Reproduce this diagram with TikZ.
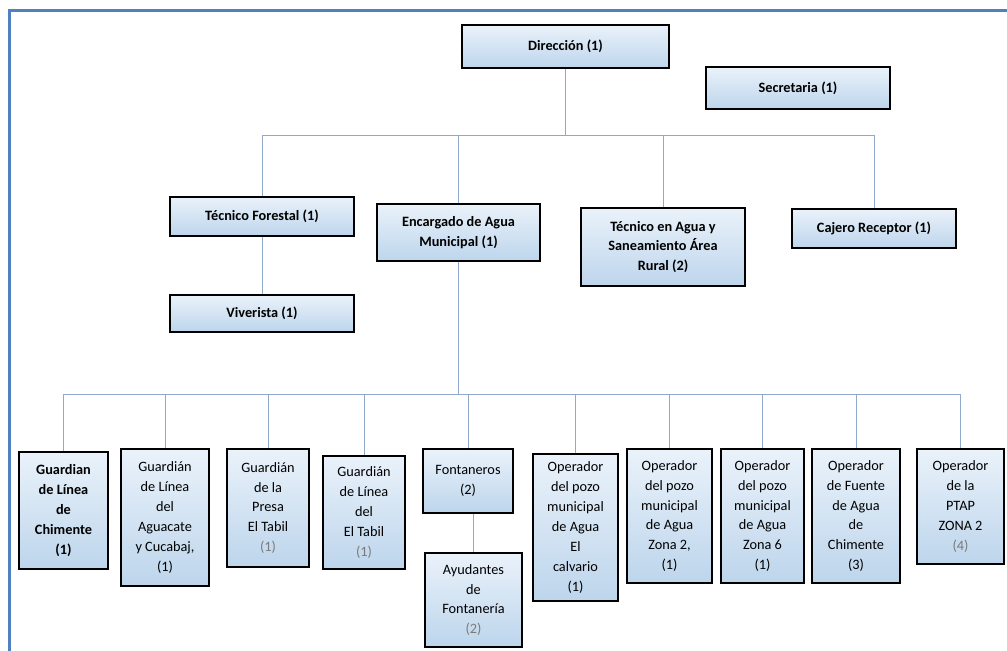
\documentclass[tikz,border=0pt]{standalone}
\usepackage{fontspec}
\setmainfont{Carlito}
\definecolor{frameblue}{HTML}{4F81BD}
\definecolor{boxtop}{HTML}{EAF2FA}
\definecolor{boxbot}{HTML}{BDD5EC}
\definecolor{linkblue}{HTML}{8EA9C9}
\definecolor{numgray}{HTML}{7A7A7A}
\begin{document}
\begin{tikzpicture}[x=0.03cm,y=-0.03cm,
    box/.style={draw=black,line width=1.2pt,top color=boxtop,bottom color=boxbot,align=center,inner sep=1pt,font=\fontsize{12.2}{17}\selectfont},
    bbox/.style={box,font=\fontsize{12.2}{17}\selectfont\bfseries},
    wh/.style n args={2}{minimum width=#1*0.03cm,minimum height=#2*0.03cm},
    link/.style={draw=linkblue,line width=0.7pt}]
    \useasboundingbox (0,0) rectangle (1007,651);
    \draw[frameblue,line width=2.6pt] (9.5,651) -- (9.5,10.5) -- (1007,10.5);
    \node[bbox,wh={207}{43}] (dir) at (565.5,46.5) {Dirección (1)};
    \node[bbox,wh={184}{42}] (sec) at (798,88) {Secretaria (1)};
    \node[bbox,wh={184}{39}] (tf) at (262,216.5) {Técnico Forestal (1)};
    \node[bbox,wh={163}{57}] (enc) at (458.5,232.5) {Encargado de Agua\\Municipal (1)};
    \node[bbox,wh={164}{78}] (tec) at (663,247) {Técnico en Agua y\\Saneamiento Área\\Rural (2)};
    \node[bbox,wh={164}{39}] (caj) at (874,228.5) {Cajero Receptor (1)};
    \node[bbox,wh={184}{37}] (viv) at (262,313.5) {Viverista (1)};
    \node[bbox,wh={89}{117}] (g1) at (63.5,510.5) {Guardian\\de Línea\\de\\Chimente\\(1)};
    \node[box,wh={88}{137}] (g2) at (165,517.5) {Guardián\\de Línea\\del\\Aguacate\\y Cucabaj,\\(1)};
    \node[box,wh={82}{118}] (g3) at (268,508) {Guardián\\de la\\Presa\\El Tabil\\{\color{numgray}(1)}};
    \node[box,wh={82}{113}] (g4) at (364,512.5) {Guardián\\de Línea\\del\\El Tabil\\{\color{numgray}(1)}};
    \node[box,wh={90}{64}] (fon) at (468,481) {Fontaneros\\(2)};
    \node[box,wh={97}{94}] (ayu) at (473.5,600) {Ayudantes\\de\\Fontanería\\{\color{numgray}(2)}};
    \node[box,wh={85}{147}] (op1) at (575.5,527.5) {Operador\\del pozo\\municipal\\de Agua\\El\\calvario\\(1)};
    \node[box,wh={85}{134}] (op2) at (669.5,516) {Operador\\del pozo\\municipal\\de Agua\\Zona 2,\\(1)};
    \node[box,wh={83}{134}] (op3) at (762.5,516) {Operador\\del pozo\\municipal\\de Agua\\Zona 6\\(1)};
    \node[box,wh={88}{134}] (op4) at (856,516) {Operador\\de Fuente\\de Agua\\de\\Chimente\\(3)};
    \node[box,wh={87}{115}] (op5) at (960.5,506.5) {Operador\\de la\\PTAP\\ZONA 2\\{\color{numgray}(4)}};
    \coordinate (topbus) at (0,135);
    \coordinate (lowbus) at (0,394);
    \draw[link] (dir.south) -- (dir.south |- topbus);
    \draw[link] (tf.north |- topbus) -- (caj.north |- topbus);
    \foreach \n in {tf,enc,tec,caj} \draw[link] (\n.north) -- (\n.north |- topbus);
    \draw[link] (tf) -- (viv);
    \draw[link] (enc.south) -- (enc.south |- lowbus);
    \draw[link] (g1.north |- lowbus) -- (op5.north |- lowbus);
    \foreach \n in {g1,g2,g3,g4,fon,op1,op2,op3,op4,op5} \draw[link] (\n.north) -- (\n.north |- lowbus);
    \draw[link] (fon.south -| ayu.north) -- (ayu.north);
\end{tikzpicture}
\end{document}
